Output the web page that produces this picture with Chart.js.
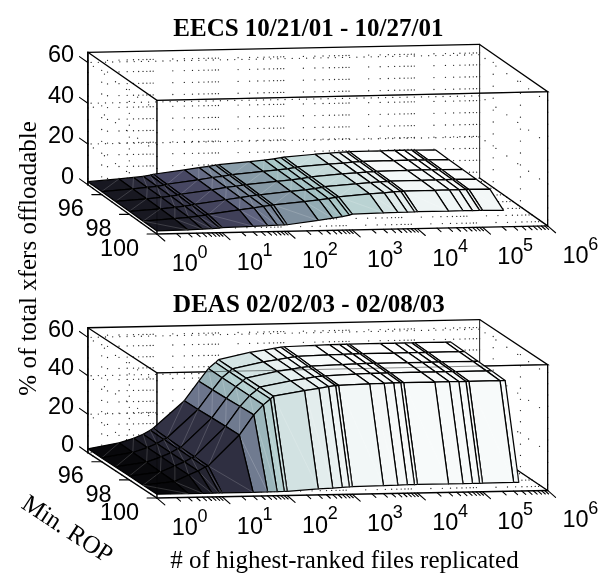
<!DOCTYPE html>
<html>
<head>
<meta charset="utf-8">
<title>Offloadable transfers</title>
<script src="https://cdn.jsdelivr.net/npm/chart.js@4"></script>
<style>
  html, body { margin: 0; background: #fff; }
  canvas { display: block; }
</style>
</head>
<body>
<canvas id="chart" width="602" height="577"></canvas>
<script>
// Min. ROP rows, back to front
var ropRows = [95, 96, 97, 98, 99, 100];
var ropTicks = [96, 98, 100];
var pctTicks = [0, 20, 40, 60];
var decadeTicks = [0, 1, 2, 3, 4, 5, 6];

var titleEecs = 'EECS 10/21/01 - 10/27/01';
var titleDeas = 'DEAS 02/02/03 - 02/08/03';
var yLabel = '% of total xfers offloadable';
var ropLabel = 'Min. ROP';
var xLabel = '# of highest-ranked files replicated';

// # of files replicated (columns of the surface)
var filesEecs = [1, 3, 5, 7, 9, 10, 30, 50, 70, 90, 100, 300, 500, 700, 900, 1000, 3000, 5000, 7000, 9000, 10000, 30000, 50000, 70000, 90000, 100000, 210000];
var filesDeas = [1, 3, 5, 7, 9, 10, 30, 50, 70, 90, 100, 300, 500, 700, 900, 1000, 3000, 5000, 7000, 9000, 10000, 30000, 50000, 70000, 90000, 100000, 300000, 360000];

// % of total xfers offloadable, one list per ROP row
var eecsRow0 = [1.5, 2.6, 3.2, 3.7, 4.2, 4.6, 6.5, 7.5, 8.0, 8.5, 8.7, 10.0, 10.6, 11.1, 11.6, 11.9, 13.0, 13.4, 13.7, 13.9, 14.0, 14.1, 14.2, 14.2, 14.2, 14.2, 14.1];
var eecsRow1 = [1.5, 2.5, 3.1, 3.6, 4.1, 4.5, 6.4, 7.4, 7.9, 8.4, 8.6, 9.9, 10.5, 11.0, 11.5, 11.8, 12.9, 13.3, 13.6, 13.8, 13.9, 14.0, 14.1, 14.1, 14.1, 14.1, 14.0];
var eecsRow2 = [1.5, 2.5, 3.1, 3.6, 4.0, 4.4, 6.3, 7.3, 7.8, 8.3, 8.5, 9.8, 10.4, 10.9, 11.4, 11.7, 12.8, 13.2, 13.5, 13.7, 13.8, 13.9, 14.0, 14.0, 14.0, 14.0, 13.9];
var eecsRow3 = [1.5, 2.4, 3.0, 3.5, 3.9, 4.3, 6.2, 7.1, 7.7, 8.1, 8.3, 9.6, 10.3, 10.8, 11.3, 11.6, 12.7, 13.1, 13.4, 13.6, 13.7, 13.8, 13.9, 13.9, 13.9, 13.9, 13.8];
var eecsRow4 = [1.5, 2.4, 2.9, 3.4, 3.8, 4.1, 6.0, 6.9, 7.5, 7.9, 8.1, 9.4, 10.1, 10.6, 11.1, 11.4, 12.5, 12.9, 13.2, 13.4, 13.5, 13.6, 13.7, 13.7, 13.7, 13.7, 13.6];
var eecsRow5 = [1.5, 1.7, 1.9, 2.1, 2.3, 2.5, 2.8, 3.0, 3.1, 3.2, 3.2, 5.0, 5.9, 6.6, 7.2, 7.7, 8.0, 8.1, 8.1, 8.2, 8.2, 8.2, 8.2, 8.2, 8.2, 8.2, 8.0];

var deasRow0 = [2.0, 4.8, 7.0, 9.0, 11.0, 12.0, 26.0, 36.0, 42.5, 45.5, 47.0, 50.5, 51.5, 52.3, 52.8, 53.0, 53.4, 53.6, 53.7, 53.7, 53.7, 53.7, 53.7, 53.7, 53.7, 53.7, 53.7, 53.7];
var deasRow1 = [2.0, 4.5, 6.9, 8.9, 10.9, 11.7, 26.2, 36.2, 42.4, 45.4, 46.9, 50.2, 51.2, 52.0, 52.5, 52.7, 53.1, 53.3, 53.4, 53.4, 53.4, 53.4, 53.4, 53.4, 53.4, 53.4, 53.4, 53.4];
var deasRow2 = [2.0, 4.2, 6.8, 8.8, 10.8, 11.5, 26.5, 36.5, 42.4, 45.4, 46.8, 50.0, 51.0, 51.7, 52.1, 52.3, 52.8, 53.0, 53.1, 53.1, 53.1, 53.1, 53.1, 53.1, 53.1, 53.1, 53.1, 53.1];
var deasRow3 = [2.0, 3.8, 6.8, 8.8, 10.7, 11.4, 26.8, 37.0, 42.4, 45.4, 46.8, 49.7, 50.7, 51.5, 51.9, 52.0, 52.5, 52.7, 52.8, 52.8, 52.8, 52.8, 52.8, 52.8, 52.8, 52.8, 52.8, 52.8];
var deasRow4 = [2.0, 3.5, 6.8, 8.8, 10.8, 11.3, 27.0, 37.3, 42.4, 45.4, 46.8, 49.4, 50.4, 51.2, 51.6, 51.7, 52.1, 52.3, 52.4, 52.4, 52.4, 52.4, 52.4, 52.4, 52.4, 52.4, 52.4, 52.4];
var deasRow5 = [2.0, 2.0, 2.0, 2.0, 2.0, 2.0, 2.0, 2.1, 2.1, 2.2, 2.2, 3.1, 3.4, 3.7, 3.9, 4.0, 4.2, 4.3, 4.4, 4.4, 4.5, 4.4, 4.4, 4.4, 4.4, 4.4, 4.5, 4.5];

var ROP_BACK = 95, ROP_FRONT = 100, PCT_TOP = 65, LOG_MAX = 6;

// box corners on the page: floor then top, front-left, front-right, back-left, back-right
var boxEecs = {
    floor: [[155, 233.3], [551, 225], [85, 183.3], [482, 176.5]],
    top: [[155, 97.7], [551, 89], [85, 49], [482, 41]]
};
var boxDeas = {
    floor: [[155, 501], [551, 493.3], [85, 455], [482, 447]],
    top: [[155, 374], [551, 365.7], [85, 328.3], [482, 320]]
};

function lerp(a, b, t) { return a + (b - a) * t; }

// orthographic-ish view: turn (log files, rop, pct) into a page position
function project(box, logN, rop, pct) {
    var u = logN / LOG_MAX, v = (ROP_FRONT - rop) / (ROP_FRONT - ROP_BACK), w = pct / PCT_TOP;
    function plane(c, k) {
        return lerp(lerp(c[0][k], c[1][k], u), lerp(c[2][k], c[3][k], u), v);
    }
    return {
        x: lerp(plane(box.floor, 0), plane(box.top, 0), w),
        y: lerp(plane(box.floor, 1), plane(box.top, 1), w)
    };
}

// MATLAB bone colormap
function bone(t) {
    t = Math.max(0, Math.min(1, t));
    var r = Math.min(1, t / 0.375), g = Math.max(0, Math.min(1, (t - 0.375) / 0.375)), b = Math.max(0, (t - 0.75) / 0.25);
    return 'rgb(' + Math.round(255 * (7 * t + b) / 8) + ',' + Math.round(255 * (7 * t + g) / 8) + ',' + Math.round(255 * (7 * t + r) / 8) + ')';
}

var datasets = [];

function addLine(points, color, width) {
    datasets.push({
        data: points, showLine: true, borderColor: color, borderWidth: width,
        pointRadius: 0, fill: false, tension: 0, clip: false, borderCapStyle: 'round'
    });
}

function addDots(points) {
    datasets.push({
        data: points, showLine: false, pointRadius: 0.65, pointBorderWidth: 0,
        pointBackgroundColor: '#222', clip: false
    });
}

function minorLogs() {
    var out = [];
    for (var k = 0; k < LOG_MAX; k++) {
        for (var m = 1; m < 10; m++) out.push(k + Math.log10(m));
    }
    out.push(LOG_MAX);
    return out;
}

function addGrid(box) {
    var dots = [], logs = minorLogs(), i, p;
    // vertical dotted lines on the back wall
    logs.forEach(function (l) {
        for (p = 2.9; p < PCT_TOP; p += 5.8) dots.push(project(box, l, ROP_BACK, p));
    });
    // pct gridlines on back and side walls
    pctTicks.forEach(function (t) {
        for (i = 0.05; i < LOG_MAX; i += 0.11) dots.push(project(box, i, ROP_BACK, t));
        for (i = ROP_BACK + 0.4; i < ROP_FRONT; i += 0.8) {
            dots.push(project(box, 0, i, t));
            dots.push(project(box, LOG_MAX, i, t));
        }
    });
    // rop gridlines on the walls
    ropTicks.forEach(function (r) {
        for (p = 2.9; p < PCT_TOP; p += 5.8) {
            dots.push(project(box, 0, r, p));
            dots.push(project(box, LOG_MAX, r, p));
        }
    });
    // floor
    logs.forEach(function (l) {
        for (i = ROP_BACK + 0.35; i < ROP_FRONT; i += 0.7) dots.push(project(box, l, i, 0));
    });
    addDots(dots);
}

function addBack(box) {
    var c = [
        project(box, 0, ROP_BACK, 0), project(box, 0, ROP_BACK, PCT_TOP),
        project(box, LOG_MAX, ROP_BACK, PCT_TOP), project(box, LOG_MAX, ROP_BACK, 0)
    ];
    addLine(c.slice(0, 3), '#000', 1.3);
    addLine([c[2], c[3]], '#333', 1.1);
    addLine([project(box, 0, ROP_BACK, PCT_TOP), project(box, 0, ROP_FRONT, PCT_TOP), project(box, LOG_MAX, ROP_FRONT, PCT_TOP), project(box, LOG_MAX, ROP_BACK, PCT_TOP)], '#000', 1.3);
    addLine([project(box, 0, ROP_FRONT, PCT_TOP), project(box, 0, ROP_FRONT, 0)], '#000', 1.3);
    addLine([project(box, LOG_MAX, ROP_FRONT, PCT_TOP), project(box, LOG_MAX, ROP_FRONT, 0), project(box, LOG_MAX, ROP_BACK, 0)], '#000', 1.3);
}

function addSurface(box, files, rows) {
    var logs = files.map(function (f) { return Math.log10(f); });
    var zMax = Math.max.apply(null, rows.map(function (r) { return Math.max.apply(null, r); }));
    // paint far rows first, and high file counts first inside a row
    for (var j = 0; j < rows.length - 1; j++) {
        for (var i = files.length - 2; i >= 0; i--) {
            var a = project(box, logs[i], ropRows[j], rows[j][i]);
            var b = project(box, logs[i + 1], ropRows[j], rows[j][i + 1]);
            var c = project(box, logs[i + 1], ropRows[j + 1], rows[j + 1][i + 1]);
            var d = project(box, logs[i], ropRows[j + 1], rows[j + 1][i]);
            datasets.push({
                data: [a, b, c, d, a], showLine: true, tension: 0, pointRadius: 0, clip: false,
                fill: 'shape', backgroundColor: bone(rows[j][i] / zMax),
                borderColor: '#000', borderWidth: 1.25, borderJoinStyle: 'round'
            });
            addLine(j === rows.length - 2 ? [a, c] : [d, b], 'rgba(255,255,255,0.28)', 0.6);
        }
    }
}

function addFront(box) {
    // box edges that show through the surface
    addLine([project(box, 0, ROP_FRONT, PCT_TOP), project(box, LOG_MAX, ROP_FRONT, PCT_TOP)], 'rgba(0,0,0,0.45)', 1);
    addLine([project(box, 0, ROP_FRONT, PCT_TOP), project(box, 0, ROP_FRONT, 0)], 'rgba(0,0,0,0.35)', 1.1);
    // axes
    addLine([project(box, 0, ROP_BACK, 0), project(box, 0, ROP_FRONT, 0), project(box, LOG_MAX, ROP_FRONT, 0)], '#000', 1.4);
    addLine([project(box, 0, ROP_BACK, PCT_TOP), project(box, 0, ROP_BACK, 0)], '#000', 1.4);
    // ticks
    var ticks = [];
    minorLogs().forEach(function (l) {
        var p = project(box, l, ROP_FRONT, 0), major = Math.abs(l - Math.round(l)) < 1e-9;
        ticks.push(p, { x: p.x + (major ? 8 : 4), y: p.y + (major ? 7 : 3.5) }, { x: NaN, y: NaN });
    });
    ropTicks.forEach(function (r) {
        var p = project(box, 0, r, 0);
        ticks.push(p, { x: p.x - 10, y: p.y }, { x: NaN, y: NaN });
    });
    pctTicks.forEach(function (t) {
        var p = project(box, 0, ROP_BACK, t);
        ticks.push(p, { x: p.x - 8.5, y: p.y - 6 }, { x: NaN, y: NaN });
    });
    addLine(ticks, '#000', 1.1);
}

var rowsEecs = [eecsRow0, eecsRow1, eecsRow2, eecsRow3, eecsRow4, eecsRow5];
var rowsDeas = [deasRow0, deasRow1, deasRow2, deasRow3, deasRow4, deasRow5];

[[boxEecs, filesEecs, rowsEecs], [boxDeas, filesDeas, rowsDeas]].forEach(function (panel) {
    addGrid(panel[0]);
    addBack(panel[0]);
    addSurface(panel[0], panel[1], panel[2]);
    addFront(panel[0]);
});

// all text goes on the canvas as real text, placed from the same projection
var textPlugin = {
    id: 'panelText',
    afterDraw: function (chart) {
        var ctx = chart.ctx;
        var sx = chart.scales.x, sy = chart.scales.y;
        function put(text, x, y, font, align, angle) {
            ctx.save();
            ctx.translate(sx.getPixelForValue(x), sy.getPixelForValue(y));
            ctx.rotate(angle || 0);
            ctx.font = font;
            ctx.textAlign = align || 'center';
            ctx.textBaseline = 'alphabetic';
            ctx.fillStyle = '#000';
            ctx.fillText(text, 0, 0);
            ctx.restore();
        }
        var sans = '23.5px "Liberation Sans"', sup = '18px "Liberation Sans"';
        put(titleEecs, 308.5, 32, 'bold 25px "Liberation Serif"');
        put(titleDeas, 309, 312, 'bold 25px "Liberation Serif"');
        put(yLabel, 32, 258, '25px "Liberation Serif"', 'center', -Math.PI / 2);
        put(ropLabel, 60, 539, '25px "Liberation Serif"', 'center', 0.58);
        put(xLabel, 345, 572, '25px "Liberation Serif"');

        [boxEecs, boxDeas].forEach(function (box) {
            pctTicks.forEach(function (t) {
                var p = project(box, 0, ROP_BACK, t);
                put(String(t), 71, p.y - 0.7, sans, 'right');
            });
            ropTicks.forEach(function (r) {
                var p = project(box, 0, r, 0);
                put(String(r), p.x - 18, p.y + 22, sans, 'right');
            });
            decadeTicks.forEach(function (d) {
                var p = project(box, d, ROP_FRONT, 0);
                put('10', p.x + 15, p.y + 37.5, sans, 'left');
                put(String(d), p.x + 41, p.y + 24, sup, 'left');
            });
        });
    }
};

new Chart(document.getElementById('chart'), {
    type: 'line',
    data: { datasets: datasets.reverse() },
    options: {
        responsive: false,
        animation: false,
        parsing: { xAxisKey: 'x', yAxisKey: 'y' },
        layout: { padding: 0 },
        plugins: { legend: { display: false }, tooltip: { enabled: false }, title: { display: false } },
        events: [],
        scales: {
            x: { type: 'linear', display: false, min: 0, max: 602 },
            y: { type: 'linear', display: false, min: 0, max: 577, reverse: true }
        }
    },
    plugins: [textPlugin]
});
</script>
</body>
</html>
